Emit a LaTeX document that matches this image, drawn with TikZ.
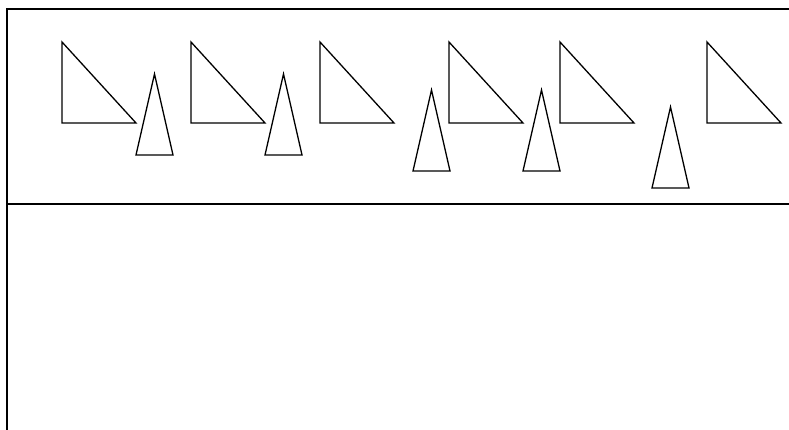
\documentclass[tikz,border=0pt]{standalone}
\begin{document}
\begin{tikzpicture}[x=1pt,y=-1pt,
  frame/.style={line width=1.6pt,black},
  tri/.style={line width=1.3pt,black,line join=miter},
  righttri/.pic={\draw[tri] (0,0) -- (0,81) -- (74,81) -- cycle;},
  isotri/.pic={\draw[tri] (0,0) -- (-18.5,81) -- (18.5,81) -- cycle;}]
\useasboundingbox (0,0) rectangle (789,430);
% frame
\draw[frame] (7,430) -- (7,9) -- (789,9);
\draw[frame] (7,204) -- (789,204);
% right triangles (top-left corner)
\foreach \x in {62,191,320,449,560,707}
  \pic at (\x,42) {righttri};
% isosceles triangles (apex)
\pic at (154.5,74) {isotri};
\pic at (283.5,74) {isotri};
\pic at (431.5,90) {isotri};
\pic at (541.5,90) {isotri};
\pic at (670.5,107) {isotri};
\end{tikzpicture}
\end{document}
